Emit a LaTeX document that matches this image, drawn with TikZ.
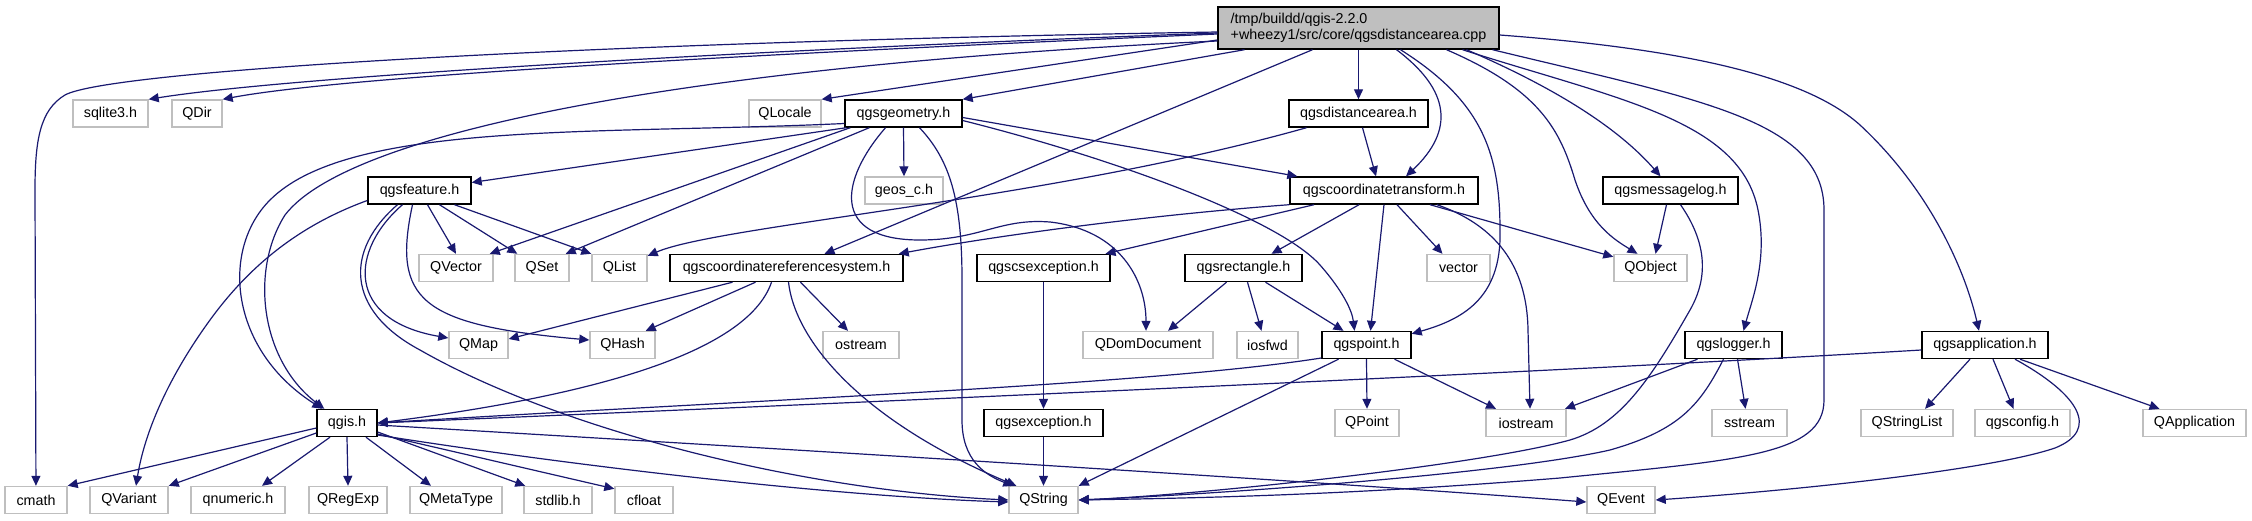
\documentclass[tikz,border=0pt]{standalone}
\usepackage{fontspec}
\setmainfont{Liberation Sans}
\usetikzlibrary{arrows.meta}
\definecolor{edgeblue}{RGB}{25,25,112}
\definecolor{grayb}{RGB}{191,191,191}
\definecolor{mainfill}{RGB}{191,191,191}
\tikzset{
 basebox/.style={line width=1.4pt, fill=white, minimum height=27pt, inner sep=0pt, font=\fontsize{14.3}{16}\selectfont},
 doc/.style={basebox, draw=black},
 ext/.style={basebox, draw=grayb},
 dep/.style={draw=edgeblue, line width=1.2pt, -{Triangle[length=10pt,width=9pt]}},
}
\begin{document}
\begin{tikzpicture}[x=1pt,y=-1pt]
\fill[white] (0,0) rectangle (2252,520);
\useasboundingbox (0,0) rectangle (2252,520);
% row 0
\node[doc, fill=mainfill, minimum width=281pt, minimum height=42pt, align=left] (main) at (1358.5,28) {/tmp/buildd/qgis-2.2.0\\+wheezy1/src/core/qgsdistancearea.cpp};
% row 1
\node[ext, minimum width=75pt] (sqlite) at (110.5,113.5) {sqlite3.h};
\node[ext, minimum width=50pt] (QDir) at (197,113.5) {QDir};
\node[ext, minimum width=72pt] (QLocale) at (785,113.5) {QLocale};
\node[doc, minimum width=117pt] (geom) at (903.5,113.5) {qgsgeometry.h};
\node[doc, minimum width=139pt] (dist) at (1358.5,113.5) {qgsdistancearea.h};
% row 2
\node[doc, minimum width=103pt] (feat) at (419.5,190.5) {qgsfeature.h};
\node[ext, minimum width=78pt] (geos) at (904,190.5) {geos\_c.h};
\node[doc, minimum width=188pt] (ct) at (1384,190.5) {qgscoordinatetransform.h};
\node[doc, minimum width=135pt] (msg) at (1670.5,190.5) {qgsmessagelog.h};
% row 3
\node[ext, minimum width=74pt] (QVector) at (456,268) {QVector};
\node[ext, minimum width=54pt] (QSet) at (542,268) {QSet};
\node[ext, minimum width=55pt] (QList) at (619.5,268) {QList};
\node[doc, minimum width=233pt] (crs) at (786.5,268) {qgscoordinatereferencesystem.h};
\node[doc, minimum width=133pt] (csex) at (1043.5,268) {qgscsexception.h};
\node[doc, minimum width=117pt] (rect) at (1243.5,268) {qgsrectangle.h};
\node[ext, minimum width=63pt] (vector) at (1458.5,268) {vector};
\node[ext, minimum width=73pt] (QObject) at (1650.5,268) {QObject};
% row 4
\node[ext, minimum width=59pt] (QMap) at (478.5,345) {QMap};
\node[ext, minimum width=65pt] (QHash) at (622.5,345) {QHash};
\node[ext, minimum width=76pt] (ostream) at (861,345) {ostream};
\node[ext, minimum width=130pt] (QDom) at (1148,345) {QDomDocument};
\node[ext, minimum width=61pt] (iosfwd) at (1267.5,345) {iosfwd};
\node[doc, minimum width=89pt] (point) at (1366.5,345) {qgspoint.h};
\node[doc, minimum width=97pt] (logger) at (1733.5,345) {qgslogger.h};
\node[doc, minimum width=126pt] (app) at (1985,345) {qgsapplication.h};
% row 5
\node[doc, minimum width=60pt] (qgis) at (347,423) {qgis.h};
\node[doc, minimum width=119pt] (qgsex) at (1043.5,423) {qgsexception.h};
\node[ext, minimum width=64pt] (QPoint) at (1367,423) {QPoint};
\node[ext, minimum width=80pt] (iostream) at (1526,423) {iostream};
\node[ext, minimum width=75pt] (sstream) at (1749.5,423) {sstream};
\node[ext, minimum width=92pt] (QStringList) at (1907,423) {QStringList};
\node[ext, minimum width=95pt] (config) at (2022.5,423) {qgsconfig.h};
\node[ext, minimum width=103pt] (QApp) at (2194.5,423) {QApplication};
% row 6
\node[ext, minimum width=62pt] (cmath) at (36,500) {cmath};
\node[ext, minimum width=78pt] (QVariant) at (129,500) {QVariant};
\node[ext, minimum width=94pt] (qnumeric) at (238,500) {qnumeric.h};
\node[ext, minimum width=78pt] (QRegExp) at (348,500) {QRegExp};
\node[ext, minimum width=92pt] (QMetaType) at (456,500) {QMetaType};
\node[ext, minimum width=68pt] (stdlib) at (558,500) {stdlib.h};
\node[ext, minimum width=58pt] (cfloat) at (644,500) {cfloat};
\node[ext, minimum width=69pt] (QString) at (1043.5,500) {QString};
\node[ext, minimum width=68pt] (QEvent) at (1621,500) {QEvent};

% ---- edges from main
\draw[dep] ([yshift=-4]main.west) .. controls (600,42) and (110,70) .. (65,95) .. controls (40,110) and (35,140) .. (35,190) -- (cmath);
\draw[dep] ([yshift=-5]main.west) .. controls (800,48) and (300,75) .. (sqlite.north east);
\draw[dep] ([yshift=-6]main.west) .. controls (800,52) and (350,75) .. (QDir.north east);
\draw[dep] ([yshift=-13]main.west) .. controls (700,65) and (350,130) .. (285,215) .. controls (250,270) and (260,360) .. ([xshift=8]qgis.north west);
\draw[dep] ([yshift=-12]main.west) -- (QLocale.north east);
\draw[dep] ([xshift=-114]main.south) -- (geom.north east);
\draw[dep] ([xshift=-46]main.south) -- ([xshift=38]crs.north);
\draw[dep] (main.south) -- (dist.north);
\draw[dep] ([xshift=38]main.south) .. controls (1450,90) and (1455,130) .. ([xshift=22]ct.north);
\draw[dep] ([xshift=42]main.south) .. controls (1480,100) and (1500,150) .. (1500,230) .. controls (1502,300) and (1460,320) .. ([yshift=-3]point.north east);
\draw[dep] ([xshift=88]main.south) .. controls (1540,90) and (1560,130) .. (1575,180) .. controls (1590,225) and (1615,240) .. ([xshift=-13]QObject.north);
\draw[dep] ([xshift=108]main.south) .. controls (1560,90) and (1620,130) .. ([xshift=-10]msg.north);
\draw[dep] ([xshift=104]main.south) .. controls (1620,100) and (1740,120) .. (1758,210) .. controls (1768,260) and (1752,300) .. ([xshift=10]logger.north);
\draw[dep] ([xshift=134]main.south) .. controls (1700,100) and (1824,120) .. (1824,210) -- (1824,400) .. controls (1824,455) and (1740,460) .. (1560,478) .. controls (1350,495) and (1200,498) .. (QString.east);
\draw[dep] ([yshift=-7]main.east) .. controls (1700,50) and (1810,80) .. (1860,125) .. controls (1930,190) and (1965,270) .. ([xshift=-6]app.north);

% ---- qgsgeometry
\draw[dep] ([xshift=2]geom.south west) -- ([yshift=8]feat.east);
\draw[dep] ([xshift=6]geom.south west) -- ([xshift=-4]QVector.north east);
\draw[dep] ([xshift=25]geom.south west) -- ([xshift=-4]QSet.north east);
\draw[dep] ([yshift=-10]geom.west) .. controls (600,135) and (350,120) .. (270,200) .. controls (220,250) and (230,350) .. ([xshift=6]qgis.north west);
\draw[dep] (geom.south) -- (geos.north);
\draw[dep] ([xshift=16]geom.south) .. controls (950,160) and (962,200) .. (962,280) -- (962,420) .. controls (962,460) and (985,475) .. ([xshift=5]QString.north west);
\draw[dep] ([xshift=-18]geom.south) .. controls (840,180) and (830,240) .. (920,240) .. controls (980,240) and (1000,218) .. (1050,222) .. controls (1120,230) and (1146,280) .. ([xshift=-2]QDom.north);
\draw[dep] ([yshift=-4]geom.east) -- ([xshift=8]ct.north west);
\draw[dep] ([yshift=-7]geom.east) .. controls (1120,160) and (1280,220) .. (1320,265) .. controls (1342,290) and (1352,310) .. ([xshift=-12]point.north);

% ---- qgsdistancearea
\draw[dep] ([xshift=4]dist.south) -- ([xshift=-8]ct.north);
\draw[dep] ([xshift=-52]dist.south) .. controls (1050,200) and (720,225) .. ([yshift=-2]QList.north east);

% ---- qgscoordinatetransform
\draw[dep] (ct.south west) .. controls (1150,215) and (1000,235) .. ([xshift=-5]crs.north east);
\draw[dep] ([xshift=-70]ct.south) -- ([xshift=62]csex.north);
\draw[dep] ([xshift=-25]ct.south) -- ([xshift=28]rect.north);
\draw[dep] (ct.south) -- ([xshift=4]point.north);
\draw[dep] ([xshift=13]ct.south) -- ([xshift=-16]vector.north);
\draw[dep] ([xshift=46]ct.south) -- ([yshift=-3]QObject.north west);
\draw[dep] ([xshift=53]ct.south) .. controls (1495,225) and (1527,265) .. (1528,330) -- ([xshift=4]iostream.north);

% ---- qgsmessagelog
\draw[dep] ([xshift=-4]msg.south) -- ([xshift=5]QObject.north);
\draw[dep] ([xshift=10]msg.south) .. controls (1705,240) and (1710,275) .. (1690,310) .. controls (1650,380) and (1620,425) .. (1570,440) .. controls (1480,465) and (1200,495) .. (QString.east);

% ---- qgslogger
\draw[dep] ([xshift=-36]logger.south) -- ([xshift=39]iostream.north);
\draw[dep] ([xshift=4]logger.south) -- ([xshift=-4]sstream.north);
\draw[dep] ([xshift=-10]logger.south) .. controls (1700,405) and (1680,430) .. (1610,450) .. controls (1500,475) and (1200,495) .. (QString.east);

% ---- qgsapplication
\draw[dep] ([yshift=-5]app.west) .. controls (1500,375) and (800,405) .. (qgis.east);
\draw[dep] ([xshift=-15]app.south) -- ([xshift=18]QStringList.north);
\draw[dep] ([xshift=8]app.south) -- ([xshift=-9]config.north);
\draw[dep] ([xshift=35]app.south) -- ([xshift=-35]QApp.north);
\draw[dep] ([xshift=30]app.south) .. controls (2080,395) and (2100,430) .. (2055,448) .. controls (1990,470) and (1800,490) .. (QEvent.east);

% ---- qgspoint
\draw[dep] ([yshift=-13]point.west) .. controls (1150,385) and (750,400) .. (qgis.east);
\draw[dep] ([xshift=-28]point.south) -- (QString.north east);
\draw[dep] (point.south) -- (QPoint.north);
\draw[dep] ([xshift=28]point.south) -- ([xshift=-30]iostream.north);

% ---- qgsrectangle
\draw[dep] ([xshift=-17]rect.south) -- ([xshift=20]QDom.north);
\draw[dep] ([xshift=4]rect.south) -- ([xshift=-6]iosfwd.north);
\draw[dep] ([xshift=22]rect.south) -- ([xshift=-23]point.north);

% ---- exceptions
\draw[dep] (csex.south) -- (qgsex.north);
\draw[dep] (qgsex.south) -- (QString.north);

% ---- qgscoordinatereferencesystem
\draw[dep] ([xshift=-54]crs.south) -- ([yshift=6]QMap.east);
\draw[dep] ([xshift=-31]crs.south) -- ([xshift=-10]QHash.north east);
\draw[dep] ([xshift=-15]crs.south) .. controls (745,360) and (560,400) .. (qgis.east);
\draw[dep] ([xshift=2]crs.south) .. controls (795,340) and (860,420) .. ([xshift=8]QString.north west);
\draw[dep] ([xshift=14]crs.south) -- ([xshift=-13]ostream.north);

% ---- qgsfeature
\draw[dep] ([xshift=8]feat.south) -- (QVector.north);
\draw[dep] ([xshift=20]feat.south) -- ([xshift=3]QSet.north west);
\draw[dep] ([xshift=35]feat.south) -- (QList.north west);
\draw[dep] ([yshift=-10]feat.west) .. controls (300,225) and (250,265) .. (210,320) .. controls (170,375) and (145,430) .. ([xshift=7]QVariant.north);
\draw[dep] ([xshift=-22]feat.south) .. controls (345,250) and (345,310) .. (420,350) .. controls (560,430) and (800,490) .. (QString.west);
\draw[dep] ([xshift=-17]feat.south) .. controls (350,250) and (345,320) .. ([yshift=7]QMap.west);
\draw[dep] ([xshift=-7]feat.south) .. controls (392,300) and (420,325) .. ([yshift=5]QHash.west);

% ---- qgis.h
\draw[dep] ([yshift=-5]qgis.west) -- (cmath.north east);
\draw[dep] ([yshift=-10]qgis.west) -- (QVariant.north east);
\draw[dep] ([xshift=-17]qgis.south) -- ([xshift=24]qnumeric.north);
\draw[dep] (qgis.south) -- (QRegExp.north);
\draw[dep] ([xshift=19]qgis.south) -- ([xshift=-25]QMetaType.north);
\draw[dep] ([yshift=-9]qgis.east) -- ([xshift=2]stdlib.north west);
\draw[dep] ([yshift=-11]qgis.east) -- ([yshift=-3]cfloat.north west);
\draw[dep] ([yshift=-2]qgis.east) .. controls (800,450) and (1300,480) .. ([yshift=-2]QEvent.west);
\draw[dep] ([yshift=-12]qgis.east) .. controls (600,470) and (850,497) .. ([yshift=-2]QString.west);
\end{tikzpicture}
\end{document}
